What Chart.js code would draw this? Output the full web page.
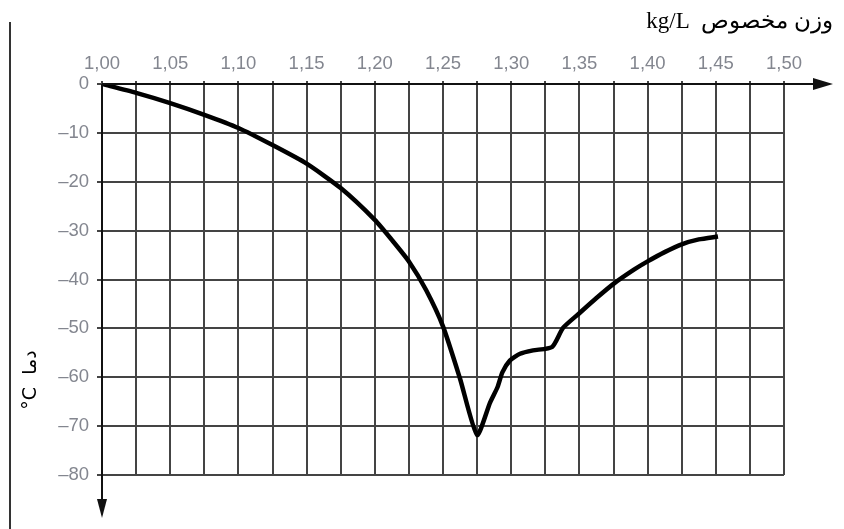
<!DOCTYPE html>
<html>
<head>
<meta charset="utf-8">
<script src="https://cdn.jsdelivr.net/npm/chart.js"></script>
<style>
  html, body { margin: 0; padding: 0; background: #fff; }
  #wrap { width: 844px; height: 529px; }
</style>
</head>
<body>
<div id="wrap"><canvas id="chart" width="844" height="529"></canvas></div>
<script>
// specific gravity (kg/L) and freezing temperature (°C)
const densities = [1.000, 1.025, 1.050, 1.075, 1.100, 1.125, 1.150, 1.175, 1.200, 1.2125, 1.225, 1.2375, 1.250, 1.2625, 1.275,
                   1.2845, 1.290, 1.2935, 1.299, 1.3065, 1.316, 1.330, 1.338, 1.350, 1.3625, 1.375, 1.390, 1.400, 1.4125, 1.425, 1.4375, 1.4516];
const temperatures = [0, -1.8, -3.9, -6.3, -9.0, -12.5, -16.3, -21.3, -27.8, -31.9, -36.3, -42.1, -49.6, -60.3, -71.8,
                      -65.2, -62.0, -59.0, -56.6, -55.2, -54.5, -53.8, -49.9, -46.9, -43.8, -40.9, -38.0, -36.3, -34.4, -32.8, -31.8, -31.2];

const xTickLabels = ['1,00', '1,05', '1,10', '1,15', '1,20', '1,25', '1,30', '1,35', '1,40', '1,45', '1,50'];
const yTickLabels = ['0', '–10', '–20', '–30', '–40', '–50', '–60', '–70', '–80'];
const xTitle = 'kg/L  وزن مخصوص';
const yTitle = '°C  دما';

const tickFont = { family: '"Liberation Sans", Arial, sans-serif', size: 18.5 };
const tickColor = '#83868f';
const gridColor = '#444';

const decor = {
    id: 'decor',
    afterDraw(chart) {
        const ctx = chart.ctx;
        const xs = chart.scales.x, ys = chart.scales.y;
        const x0 = xs.getPixelForValue(1.0), x1 = xs.getPixelForValue(1.5);
        const y0 = ys.getPixelForValue(0), y1 = ys.getPixelForValue(-80);
        ctx.save();
        ctx.strokeStyle = '#111';
        ctx.fillStyle = '#111';
        ctx.lineWidth = 2;
        // axis lines with arrows
        ctx.beginPath(); ctx.moveTo(x0, y0); ctx.lineTo(x1 + 34, y0); ctx.stroke();
        ctx.beginPath(); ctx.moveTo(x1 + 49, y0); ctx.lineTo(x1 + 29, y0 - 6); ctx.lineTo(x1 + 29, y0 + 6); ctx.closePath(); ctx.fill();
        ctx.beginPath(); ctx.moveTo(x0, y0); ctx.lineTo(x0, y1 + 28); ctx.stroke();
        ctx.beginPath(); ctx.moveTo(x0, y1 + 43); ctx.lineTo(x0 - 5, y1 + 24); ctx.lineTo(x0 + 5, y1 + 24); ctx.closePath(); ctx.fill();
        // frame line at left
        ctx.strokeStyle = '#333';
        ctx.beginPath(); ctx.moveTo(10, 22); ctx.lineTo(10, 529); ctx.stroke();
        // titles
        ctx.fillStyle = '#000';
        ctx.font = '23px "Liberation Serif", "Times New Roman", serif';
        ctx.textAlign = 'right';
        ctx.textBaseline = 'middle';
        ctx.fillText(xTitle, 833, 22);
        ctx.translate(31, 380);
        ctx.rotate(-Math.PI / 2);
        ctx.font = '19px "DejaVu Sans", sans-serif';
        ctx.textAlign = 'center';
        ctx.fillText(yTitle, 0, 0);
        ctx.restore();
    }
};

new Chart(document.getElementById('chart'), {
    type: 'line',
    data: {
        datasets: [{
            data: densities.map((d, i) => ({ x: d, y: temperatures[i] })),
            borderColor: '#000',
            borderWidth: 4.5,
            pointRadius: 0,
            tension: 0.2,
            fill: false
        }]
    },
    options: {
        responsive: false,
        animation: false,
        layout: { padding: { left: 10, top: 10, right: 60, bottom: 54 } },
        plugins: { legend: { display: false }, tooltip: { enabled: false } },
        scales: {
            x: {
                type: 'linear',
                position: 'top',
                min: 1.0,
                max: 1.5,
                afterFit(scale) { scale.height = 74; },
                border: { display: false },
                grid: { color: gridColor, lineWidth: 2, tickLength: 3 },
                ticks: {
                    stepSize: 0.025,
                    autoSkip: false,
                    maxRotation: 0,
                    padding: 6,
                    font: tickFont,
                    color: tickColor,
                    callback(value) {
                        const k = Math.round((value - 1) * 1000);
                        return k % 50 === 0 ? xTickLabels[k / 50] : '';
                    }
                }
            },
            y: {
                type: 'linear',
                min: -80,
                max: 0,
                afterFit(scale) { scale.width = 92; },
                border: { display: false },
                grid: { color: gridColor, lineWidth: 2, tickLength: 5 },
                ticks: {
                    stepSize: 10,
                    padding: 8,
                    font: tickFont,
                    color: tickColor,
                    callback(value) { return yTickLabels[Math.round(-value / 10)]; }
                }
            }
        }
    },
    plugins: [decor]
});
</script>
</body>
</html>
